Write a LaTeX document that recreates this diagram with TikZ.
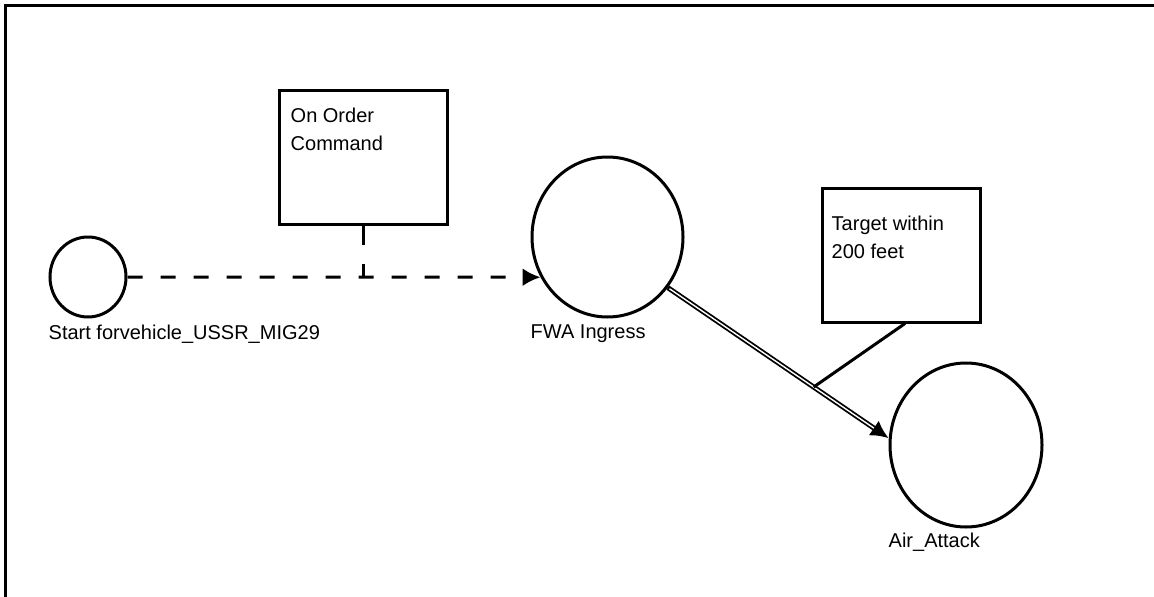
\documentclass[tikz,border=0pt]{standalone}
\usepackage{fontspec}
\setmainfont{Liberation Sans}
\usetikzlibrary{arrows.meta,positioning,shapes.geometric}
\tikzset{
    state/.style={
        ellipse,draw,line width=3pt,inner sep=0pt
    },
    cond/.style={
        draw,line width=3pt,inner sep=0pt
    },
    txt/.style={
        inner sep=0pt,align=left,font=\fontsize{20}{28}\selectfont
    },
    lbl/.style={
        txt,anchor=north west
    },
    tip/.style={
        -{Latex[length=18pt,width=18pt]}
    },
    trans/.style={
        tip,line width=3pt,dash pattern=on 15pt off 18pt
    },
    fired/.style={
        tip,line width=5pt
    },
    firedcore/.style={
        white,line width=1.4pt,shorten <=2pt,shorten >=18pt
    },
    tap/.style={
        line width=3pt
    }
}
\begin{document}
\begin{tikzpicture}[x=1pt,y=-1pt]
\useasboundingbox (0,0) rectangle (1154,597);
\draw[line width=3pt] (5.5,597) |- (1154,5.5);

% states
\node[state,minimum width=76pt,minimum height=80pt] (start) at (88,277) {};
\node[state,minimum width=151pt,minimum height=160pt] (fwa) at (607.5,237) {};
\node[state,minimum width=152pt,minimum height=164pt] (aa) at (966,445) {};

\node[lbl] (startlbl) at ([yshift=-6pt]start.south -| start.west) {Start forvehicle\_USSR\_MIG29};
\node[lbl] (fwalbl) at ([yshift=-6pt]fwa.south -| fwa.west) {FWA Ingress};
\node[lbl] (aalbl) at ([yshift=-4pt]aa.south -| aa.west) {Air\_Attack};

% conditions
\node[cond,minimum width=168pt,minimum height=134pt] (cmd) at (363,157) {};
\node[txt,anchor=north west] (cmdtxt) at ([xshift=13pt,yshift=-19pt]cmd.north west) {On Order\\Command};
\node[cond,minimum width=158pt,minimum height=134pt] (tgt) at (901,255) {};
\node[txt,anchor=north west] (tgttxt) at ([xshift=11pt,yshift=-29pt]tgt.north west) {Target within\\200 feet};

% transitions
\draw[trans] (start.east) -- (fwa.211);
\draw[tap,dash pattern=on 19pt off 19pt] (cmd.south) -- (cmd.south |- start.east);
\draw[fired] (fwa.-40) -- coordinate[pos=.66] (hit) (aa.175);
\draw[firedcore] (fwa.-40) -- (aa.175);
\draw[tap] ([xshift=4pt]tgt.south) -- (hit);

\end{tikzpicture}
\end{document}
